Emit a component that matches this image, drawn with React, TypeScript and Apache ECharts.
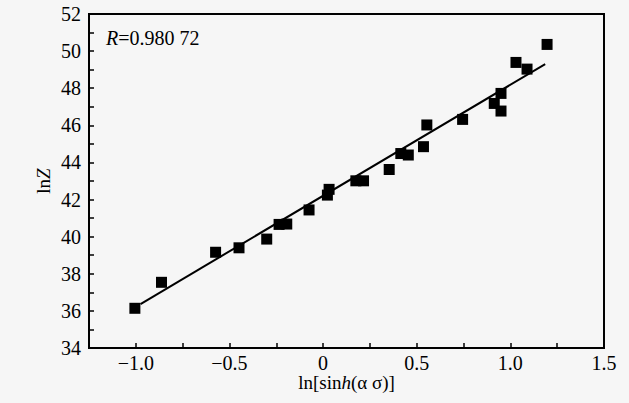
import React, { useEffect, useRef } from "react";
import * as echarts from "echarts";

const xValues = [
  -1.005, -0.863, -0.574, -0.449, -0.301, -0.235, -0.194, -0.075,
  0.032, 0.023, 0.175, 0.216, 0.353, 0.415, 0.455, 0.536, 0.554,
  0.745, 0.914, 0.95, 0.95, 1.03, 1.089, 1.196,
];
const yValues = [
  36.14, 37.54, 39.16, 39.4, 39.87, 40.66, 40.68, 41.44,
  42.55, 42.24, 43.01, 43.01, 43.62, 44.48, 44.4, 44.85, 46.02,
  46.32, 47.18, 47.72, 46.77, 49.39, 49.03, 50.36,
];
const fitX = [-0.975, 1.186];
const fitY = [36.37, 49.3];
const rLabel = "0.980 72";

const FONT = "'Liberation Serif', 'DejaVu Serif', serif";

export default function App() {
  const ref = useRef<HTMLDivElement>(null);
  useEffect(() => {
    document.body.style.margin = "0";
    const chart = echarts.init(ref.current!, null, { renderer: "svg" });
    const fmtX = (v: number) => {
      if (Math.abs(v * 2 - Math.round(v * 2)) > 1e-6) return "";
      if (Math.abs(v) < 1e-9) return "0";
      const s = Math.abs(v).toFixed(1);
      return v < 0 ? "−" + s : s;
    };
    const nameRich = {
      n: { fontFamily: FONT, fontSize: 19, color: "#000", lineHeight: 19 },
      i: { fontFamily: FONT, fontSize: 19, color: "#000", fontStyle: "italic", lineHeight: 19 },
    };
    chart.setOption({
      animation: false,
      backgroundColor: "#f6f6f6",
      grid: {
        left: 89,
        right: 25,
        top: 14,
        bottom: 55,
        show: true,
        borderColor: "#000",
        borderWidth: 2,
        backgroundColor: "transparent",
      },
      xAxis: {
        type: "value",
        min: -1.25,
        max: 1.5,
        interval: 0.25,
        name: "{n|ln[sin}{i|h}{n|(α σ)]}",
        nameLocation: "middle",
        nameGap: 25,
        nameMoveOverlap: false,
        nameTextStyle: { color: "#000", fontFamily: FONT, fontSize: 19, rich: nameRich },
        axisLine: { show: true, onZero: false, lineStyle: { color: "#000", width: 2 } },
        axisTick: { show: true, inside: true, length: 5, lineStyle: { color: "#000", width: 1.5 } },
        axisLabel: {
          formatter: fmtX,
          fontFamily: FONT,
          fontSize: 20,
          lineHeight: 20,
          color: "#000",
          margin: 5,
          showMinLabel: true,
          showMaxLabel: true,
        },
        splitLine: { show: false },
      },
      yAxis: {
        type: "value",
        min: 34,
        max: 52,
        interval: 2,
        name: "{n|ln}{i|Z}",
        nameLocation: "middle",
        nameGap: 36,
        nameMoveOverlap: false,
        nameRotate: 90,
        nameTextStyle: { color: "#000", fontFamily: FONT, fontSize: 19, rich: nameRich },
        axisLine: { show: true, onZero: false, lineStyle: { color: "#000", width: 2 } },
        axisTick: { show: true, inside: true, length: 5, lineStyle: { color: "#000", width: 1.5 } },
        minorTick: { show: true, splitNumber: 2, length: 5, lineStyle: { color: "#000", width: 1.5 } },
        axisLabel: { fontFamily: FONT, fontSize: 20, color: "#000", margin: 8 },
        splitLine: { show: false },
      },
      graphic: [
        {
          type: "text",
          left: 106,
          top: 28,
          style: {
            text: "{i|R}{n|=" + rLabel + "}",
            rich: {
              i: { fontFamily: FONT, fontSize: 20, fontStyle: "italic", fill: "#000" },
              n: { fontFamily: FONT, fontSize: 20, fill: "#000" },
            },
          },
        },
      ],
      series: [
        {
          type: "line",
          data: fitX.map((x, i) => [x, fitY[i]]),
          symbol: "none",
          lineStyle: { color: "#000", width: 2 },
          z: 2,
        },
        {
          type: "scatter",
          data: xValues.map((x, i) => [x, yValues[i]]),
          symbol: "rect",
          symbolSize: 11,
          itemStyle: { color: "#000", opacity: 1 },
          z: 3,
        },
      ],
    });
    return () => chart.dispose();
  }, []);
  return <div ref={ref} style={{ width: 629, height: 403 }} />;
}
